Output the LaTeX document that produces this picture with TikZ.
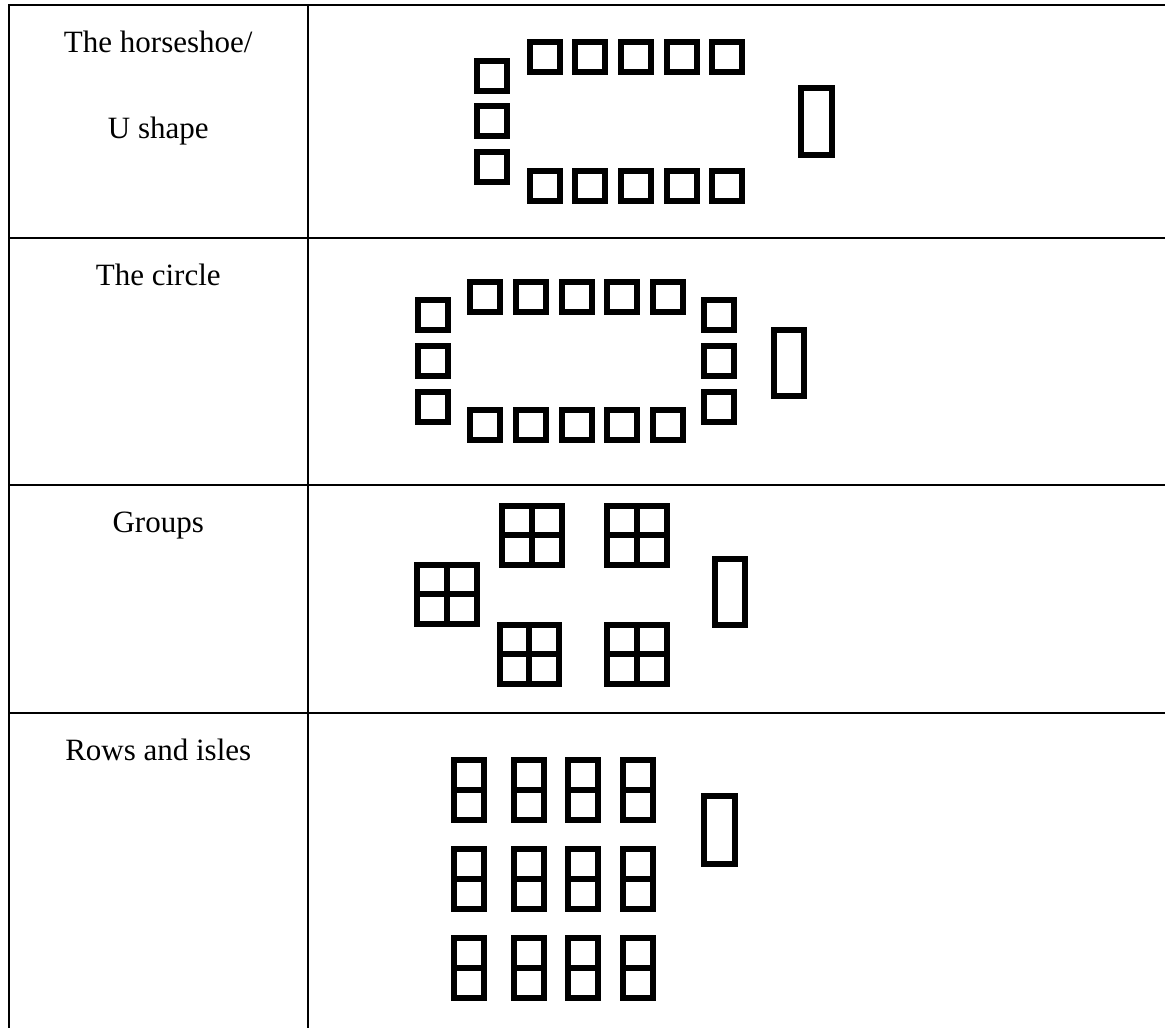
\documentclass[tikz,border=0pt]{standalone}
\usepackage{fontspec}
\setmainfont{Liberation Serif}
\tikzset{
  rule/.style={line width=1.5pt},
  seat/.style={line width=4.5pt},
  lbl/.style={anchor=base, inner sep=0pt, font=\fontsize{23.25}{28}\selectfont}
}
\begin{document}
\begin{tikzpicture}[x=0.75pt,y=-0.75pt]
\useasboundingbox (0,0) rectangle (1165,1028);
% table
\draw[rule] (8.25,5) -- (1165,5);
\draw[rule] (8.25,238) -- (1165,238);
\draw[rule] (8.25,485) -- (1165,485);
\draw[rule] (8.25,713) -- (1165,713);
\draw[rule] (9,4.25) -- (9,1028);
\draw[rule] (307.5,4.25) -- (307.5,1028);
\node[lbl] (shoeA) at (158.25,52) {The horseshoe/};
\node[lbl] (shoeB) at (158.25,138) {U shape};
\node[lbl] (circ) at (158.25,285) {The circle};
\node[lbl] (grp) at (158.25,532) {Groups};
\node[lbl] (rows) at (158.25,760) {Rows and isles};
% horseshoe
\foreach \i in {0,...,4} {
  \draw[seat] (529.7+45.65*\i,42) rectangle ++(30,30);
  \draw[seat] (529.7+45.65*\i,170.5) rectangle ++(30,30);
}
\foreach \j in {0,1,2}
  \draw[seat] (477,60.7+45.65*\j) rectangle ++(30,30);
\draw[seat] (801.3,88) rectangle (832,154.7);
% circle
\foreach \i in {0,...,4} {
  \draw[seat] (470.3+45.7*\i,282) rectangle ++(30,30);
  \draw[seat] (470.3+45.7*\i,410) rectangle ++(30,30);
}
\foreach \j in {0,1,2} {
  \draw[seat] (417.7,300.3+45.7*\j) rectangle ++(30,30);
  \draw[seat] (704.3,300.3+45.7*\j) rectangle ++(30,30);
}
\draw[seat] (774.3,330.3) rectangle (804,396.3);
% groups
\foreach \gx/\gy in {499/502.7, 604/502.7, 414.3/561.7, 496.7/621.7, 604/621.7} {
  \draw[seat] (\gx+3,\gy+3) rectangle ++(59.5,59.5);
  \draw[seat] (\gx+32.75,\gy+3) -- ++(0,59.5);
  \draw[seat] (\gx+3,\gy+32.75) -- ++(59.5,0);
}
\draw[seat] (714.7,558.7) rectangle (744.7,624.7);
% rows and isles
\foreach \cx in {451,510.5,565,620}
  \foreach \ry in {757,845.7,935} {
    \draw[seat] (\cx+3,\ry+3) rectangle ++(30,60);
    \draw[seat] (\cx+3,\ry+33) -- ++(30,0);
  }
\draw[seat] (704,796.3) rectangle (734.7,863.7);
\end{tikzpicture}
\end{document}
